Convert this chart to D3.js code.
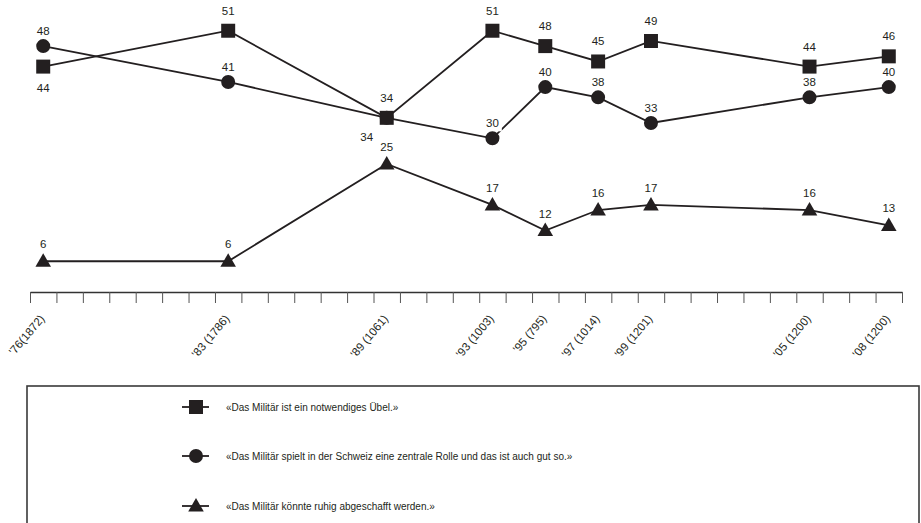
<!DOCTYPE html>
<html><head><meta charset="utf-8">
<script src="https://cdn.jsdelivr.net/npm/d3@7"></script>
<style>body{margin:0;background:#fff}svg{display:block}text{font-family:"Liberation Sans",Arial,sans-serif;fill:#231f20}</style>
</head><body>
<svg id="c" width="921" height="523"></svg>
<script>
const years = [1976, 1983, 1989, 1993, 1995, 1997, 1999, 2005, 2008];
const yearLabels = ["'76(1872)", "'83 (1786)", "'89 (1061)", "'93 (1003)", "'95 (795)", "'97 (1014)", "'99 (1201)", "'05 (1200)", "'08 (1200)"];
const uebel = [44, 51, 34, 51, 48, 45, 49, 44, 46];
const rolle = [48, 41, 34, 30, 40, 38, 33, 38, 40];
const abgeschafft = [6, 6, 25, 17, 12, 16, 17, 16, 13];
const seriesNames = [
  "«Das Militär ist ein notwendiges Übel.»",
  "«Das Militär spielt in der Schweiz eine zentrale Rolle und das ist auch gut so.»",
  "«Das Militär könnte ruhig abgeschafft werden.»"
];

const ink = "#231f20";
const svg = d3.select("#c");
const x = d3.scaleLinear().domain([1975.5, 2008.5]).range([30, 902]);
const y = d3.scaleLinear().domain([0, 57]).range([292, 0]);

// axis
const ax = svg.append("g").attr("transform", "translate(0,292)")
  .call(d3.axisBottom(x).tickValues(d3.range(1975.5, 2009, 1)).tickFormat("").tickSize(11).tickSizeOuter(0));
ax.select(".domain").attr("stroke", "#333").attr("stroke-width", 1.5);
ax.selectAll(".tick line").attr("stroke", "#555").attr("stroke-width", 1);

svg.append("g").selectAll("text").data(years).join("text")
  .attr("transform", (d) => `translate(${x(d) + 2},319) rotate(-50)`)
  .attr("text-anchor", "end").attr("font-size", 11.5)
  .text((d, i) => yearLabels[i]);

const series = [
  {vals: uebel, sym: d3.symbolSquare, size: 196, dy: -16, special: {0: [0, 25]}},
  {vals: rolle, sym: d3.symbolCircle, size: 154, dy: -11, special: {2: [-20, 23]}},
  {vals: abgeschafft, sym: d3.symbolTriangle, size: 105, dy: -13, special: {}}
];

const line = d3.line().x((d) => x(d[0])).y((d) => y(d[1]));
series.forEach((s) => {
  svg.append("path").datum(years.map((yr, i) => [yr, s.vals[i]]))
    .attr("d", line).attr("fill", "none").attr("stroke", ink).attr("stroke-width", 1.8);
});

// labels with white background
series.forEach((s) => {
  const g = svg.append("g");
  years.forEach((yr, i) => {
    const off = s.special[i] || [0, s.dy];
    const t = g.append("text").attr("x", x(yr) + off[0]).attr("y", y(s.vals[i]) + off[1])
      .attr("text-anchor", "middle").attr("font-size", 11.5).text(s.vals[i]);
    const b = t.node().getBBox();
    g.insert("rect", "text").attr("x", b.x - 3).attr("y", b.y - 1).attr("width", b.width + 6).attr("height", b.height + 3).attr("fill", "#fff");
  });
});

series.forEach((s) => {
  svg.append("g").selectAll("path").data(years).join("path")
    .attr("transform", (d, i) => `translate(${x(d)},${y(s.vals[i]) + (s.sym === d3.symbolTriangle ? 1 : 0)})`)
    .attr("d", d3.symbol(s.sym, s.size)).attr("fill", ink);
});

// legend
svg.append("rect").attr("x", 27).attr("y", 386).attr("width", 892).attr("height", 160)
  .attr("fill", "none").attr("stroke", "#3a3a3a").attr("stroke-width", 1.6);
const ly = [407, 456, 506];
series.forEach((s, i) => {
  const g = svg.append("g").attr("transform", `translate(196,${ly[i]})`);
  g.append("line").attr("x1", -14).attr("x2", 13).attr("stroke", ink).attr("stroke-width", 1.8);
  g.append("path").attr("d", d3.symbol(s.sym, s.size)).attr("fill", ink)
    .attr("transform", s.sym === d3.symbolTriangle ? "translate(0,1)" : null);
  g.append("text").attr("x", 30).attr("y", 4).attr("font-size", 10).text(seriesNames[i]);
});
</script>
</body></html>
